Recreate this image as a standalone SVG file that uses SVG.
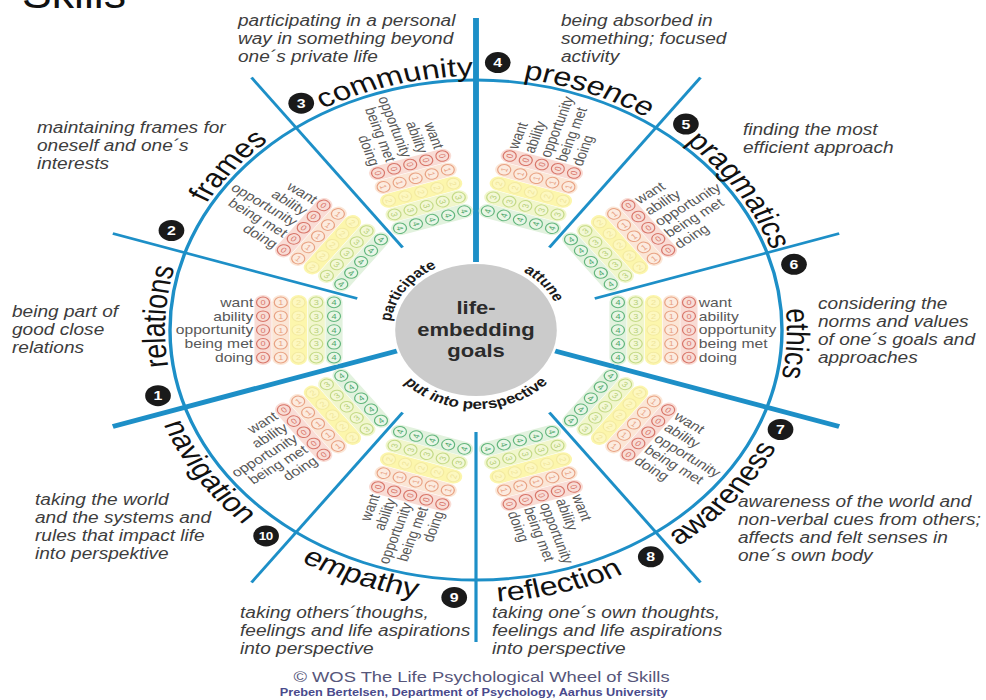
<svg xmlns="http://www.w3.org/2000/svg" width="986" height="700" viewBox="0 0 986 700">
<style>
text{font-family:"Liberation Sans",Arial,sans-serif}
.ring{fill:none;stroke:#1d8fc7;stroke-width:2.8}
.thin{stroke:#1d8fc7;stroke-width:2.6;stroke-linecap:butt}
.thick{stroke:#1d8fc7;stroke-width:4.8;stroke-linecap:butt}
.sl{font-size:26.5px;fill:#111;text-anchor:middle}
.gl{font-size:13.5px;font-weight:bold;fill:#1a1a1a;text-anchor:middle}
.ct{font-size:18px;font-weight:bold;fill:#2b2b2b;text-anchor:middle}
.bd{fill:#1a1a1a}
.bn{font-size:13px;font-weight:bold;fill:#fff;text-anchor:middle}
.bn10{font-size:11px;font-weight:bold;fill:#fff;text-anchor:middle;letter-spacing:-0.5px}
.rl{font-size:12.8px;fill:#585858}
.rlL{text-anchor:end}
.rlR{text-anchor:start}
.col text{font-size:7.5px;text-anchor:middle}
.col circle{stroke-width:1}
.k0 rect{fill:#f9dcd5}.k0 circle{fill:#f8ddd6;stroke:#d8766a}.k0 text{fill:#d8766a}
.k1 rect{fill:#fbe6d6}.k1 circle{fill:#fcebdf;stroke:#e8a283}.k1 text{fill:#e8a283}
.k2 rect{fill:#fcf6ac}.k2 circle{fill:#fdf8c0;stroke:#f3eaa0}.k2 text{fill:#efe49a}
.k3 rect{fill:#f1f6cc}.k3 circle{fill:#f3f8d6;stroke:#c4da86}.k3 text{fill:#b7d07a}
.k4 rect{fill:#e2f2de}.k4 circle{fill:#e9f6e6;stroke:#63b67d}.k4 text{fill:#4fa86c}
.ds{font-size:15.6px;font-style:italic;fill:#3d3d3d}
</style>
<defs>
<path id="cwO" d="M 0,254 A 254 254 0 1 1 0,-254 A 254 254 0 1 1 0,254"/>
<path id="ccwO" d="M 0,-272 A 272 272 0 1 0 0,272 A 272 272 0 1 0 0,-272"/>
<path id="cwI" d="M 0,70 A 70 70 0 1 1 0,-70 A 70 70 0 1 1 0,70"/>
<path id="ccwI" d="M 0,-79 A 79 79 0 1 0 0,79 A 79 79 0 1 0 0,-79"/>
<g id="c0" class="col k0"><rect x="-7" y="-35" width="14" height="70" rx="7"/><circle cy="-27.6" r="5.3"/><circle cy="-13.8" r="5.3"/><circle cy="0" r="5.3"/><circle cy="13.8" r="5.3"/><circle cy="27.6" r="5.3"/><text y="-24.9">0</text><text y="-11.1">0</text><text y="2.7">0</text><text y="16.5">0</text><text y="30.3">0</text></g>
<g id="c1" class="col k1"><rect x="-7" y="-35" width="14" height="70" rx="7"/><circle cy="-27.6" r="5.3"/><circle cy="-13.8" r="5.3"/><circle cy="0" r="5.3"/><circle cy="13.8" r="5.3"/><circle cy="27.6" r="5.3"/><text y="-24.9">1</text><text y="-11.1">1</text><text y="2.7">1</text><text y="16.5">1</text><text y="30.3">1</text></g>
<g id="c2" class="col k2"><rect x="-7" y="-35" width="14" height="70" rx="7"/><circle cy="-27.6" r="5.3"/><circle cy="-13.8" r="5.3"/><circle cy="0" r="5.3"/><circle cy="13.8" r="5.3"/><circle cy="27.6" r="5.3"/><text y="-24.9">2</text><text y="-11.1">2</text><text y="2.7">2</text><text y="16.5">2</text><text y="30.3">2</text></g>
<g id="c3" class="col k3"><rect x="-7" y="-35" width="14" height="70" rx="7"/><circle cy="-27.6" r="5.3"/><circle cy="-13.8" r="5.3"/><circle cy="0" r="5.3"/><circle cy="13.8" r="5.3"/><circle cy="27.6" r="5.3"/><text y="-24.9">3</text><text y="-11.1">3</text><text y="2.7">3</text><text y="16.5">3</text><text y="30.3">3</text></g>
<g id="c4" class="col k4"><rect x="-7" y="-35" width="14" height="70" rx="7"/><circle cy="-27.6" r="5.3"/><circle cy="-13.8" r="5.3"/><circle cy="0" r="5.3"/><circle cy="13.8" r="5.3"/><circle cy="27.6" r="5.3"/><text y="-24.9">4</text><text y="-11.1">4</text><text y="2.7">4</text><text y="16.5">4</text><text y="30.3">4</text></g>
<g id="gridL">
<use href="#c0" x="-174"/><use href="#c1" x="-159.5"/><use href="#c2" x="-145"/><use href="#c3" x="-130.5"/><use href="#c4" x="-116"/>
<g class="rl rlL"><text x="-182" y="-23.2">want</text><text x="-182" y="-9.4">ability</text><text x="-182" y="4.4">opportunity</text><text x="-182" y="18.2">being met</text><text x="-182" y="32">doing</text></g>
</g>
<g id="gridR">
<use href="#c0" x="174"/><use href="#c1" x="159.5"/><use href="#c2" x="145"/><use href="#c3" x="130.5"/><use href="#c4" x="116"/>
<g class="rl rlR"><text x="182" y="-23.2">want</text><text x="182" y="-9.4">ability</text><text x="182" y="4.4">opportunity</text><text x="182" y="18.2">being met</text><text x="182" y="32">doing</text></g>
</g>
</defs>
<rect width="986" height="700" fill="#fff"/>
<text x="22" y="8" font-size="42" fill="#111" textLength="104" lengthAdjust="spacingAndGlyphs">Skills</text>
<g id="wheel" transform="translate(476,330) scale(1.224,1)">
<g id="connectors">
<circle class="ring" r="250"/>
<line class="thick" x1="64.67" y1="21.01" x2="296.73" y2="96.41"/>
<line class="thin" x1="59.95" y1="82.52" x2="183.39" y2="252.41"/>
<line class="thin" x1="0" y1="102" x2="0" y2="312"/>
<line class="thin" x1="-59.95" y1="82.52" x2="-183.39" y2="252.41"/>
<line class="thick" x1="-64.67" y1="21.01" x2="-296.73" y2="96.41"/>
<line class="thin" x1="-97.01" y1="-31.52" x2="-296.73" y2="-96.41"/>
<line class="thin" x1="-59.95" y1="-82.52" x2="-183.39" y2="-252.41"/>
<line class="thick" x1="0" y1="-68" x2="0" y2="-312"/>
<line class="thin" x1="59.95" y1="-82.52" x2="183.39" y2="-252.41"/>
<line class="thin" x1="97.01" y1="-31.52" x2="296.73" y2="-96.41"/>
</g>
<g id="s1-relations">
<use href="#gridL"/>
<circle class="bd" cx="-259.8" cy="65.7" r="10.5"/><text class="bn" x="-259.8" y="70.4">1</text>
<text class="sl"><textPath href="#cwO" startOffset="25.833%">relations</textPath></text>
</g>
<g id="s2-frames">
<use href="#gridL" transform="rotate(36)"/>
<circle class="bd" cx="-248.8" cy="-99.5" r="10.5"/><text class="bn" x="-248.8" y="-94.8">2</text>
<text class="sl"><textPath href="#cwO" startOffset="35.833%">frames</textPath></text>
</g>
<g id="s3-community">
<use href="#gridL" transform="rotate(72)"/>
<circle class="bd" cx="-142.8" cy="-226.8" r="10.5"/><text class="bn" x="-142.8" y="-222.1">3</text>
<text class="sl"><textPath href="#cwO" startOffset="45.833%">community</textPath></text>
</g>
<g id="s4-presence">
<use href="#gridR" transform="rotate(-72)"/>
<circle class="bd" cx="17.8" cy="-267.4" r="10.5"/><text class="bn" x="17.8" y="-262.7">4</text>
<text class="sl"><textPath href="#cwO" startOffset="55.833%">presence</textPath></text>
</g>
<g id="s5-pragmatics">
<use href="#gridR" transform="rotate(-36)"/>
<circle class="bd" cx="171.5" cy="-205.9" r="10.5"/><text class="bn" x="171.5" y="-201.2">5</text>
<text class="sl"><textPath href="#cwO" startOffset="65.833%">pragmatics</textPath></text>
</g>
<g id="s6-ethics">
<use href="#gridR"/>
<circle class="bd" cx="259.8" cy="-65.7" r="10.5"/><text class="bn" x="259.8" y="-61">6</text>
<text class="sl"><textPath href="#cwO" startOffset="75.833%">ethics</textPath></text>
</g>
<g id="s7-awareness">
<use href="#gridR" transform="rotate(36)"/>
<circle class="bd" cx="248.8" cy="99.5" r="10.5"/><text class="bn" x="248.8" y="104.2">7</text>
<text class="sl"><textPath href="#ccwO" startOffset="64.167%">awareness</textPath></text>
</g>
<g id="s8-reflection">
<use href="#gridR" transform="rotate(72)"/>
<circle class="bd" cx="142.8" cy="226.8" r="10.5"/><text class="bn" x="142.8" y="231.5">8</text>
<text class="sl"><textPath href="#ccwO" startOffset="54.167%">reflection</textPath></text>
</g>
<g id="s9-empathy">
<use href="#gridL" transform="rotate(-72)"/>
<circle class="bd" cx="-17.8" cy="267.4" r="10.5"/><text class="bn" x="-17.8" y="272.1">9</text>
<text class="sl"><textPath href="#ccwO" startOffset="44.167%">empathy</textPath></text>
</g>
<g id="s10-navigation">
<use href="#gridL" transform="rotate(-36)"/>
<circle class="bd" cx="-171.5" cy="205.9" r="10.5"/><text class="bn10" x="-171.8" y="209.8">10</text>
<text class="sl"><textPath href="#ccwO" startOffset="34.167%">navigation</textPath></text>
</g>
<g id="center">
<circle r="66" fill="#cbcbcb"/>
<text class="ct" y="-16">life-</text>
<text class="ct" y="6">embedding</text>
<text class="ct" y="27">goals</text>
</g>
<g id="group-labels">
<text class="gl"><textPath href="#cwI" startOffset="34.72%">participate</textPath></text>
<text class="gl"><textPath href="#cwI" startOffset="63.89%">attune</textPath></text>
<text class="gl" style="font-size:14px"><textPath href="#ccwI" startOffset="50%">put into perspective</textPath></text>
</g>
</g>
<g id="descriptions" transform="scale(1.224,1)">
<text class="ds" x="194.4" y="26">participating in a personal</text>
<text class="ds" x="194.4" y="44">way in something beyond</text>
<text class="ds" x="194.4" y="62">one´s private life</text>
<text class="ds" x="458.3" y="26">being absorbed in</text>
<text class="ds" x="458.3" y="44">something; focused</text>
<text class="ds" x="458.3" y="62">activity</text>
<text class="ds" x="30.2" y="133">maintaining frames for</text>
<text class="ds" x="30.2" y="151">oneself and one´s</text>
<text class="ds" x="30.2" y="169">interests</text>
<text class="ds" x="607" y="135">finding the most</text>
<text class="ds" x="607" y="153">efficient approach</text>
<text class="ds" x="9.8" y="317">being part of</text>
<text class="ds" x="9.8" y="335">good close</text>
<text class="ds" x="9.8" y="353">relations</text>
<text class="ds" x="668.3" y="309">considering the</text>
<text class="ds" x="668.3" y="327">norms and values</text>
<text class="ds" x="668.3" y="345">of one´s goals and</text>
<text class="ds" x="668.3" y="363">approaches</text>
<text class="ds" x="28.6" y="505">taking the world</text>
<text class="ds" x="28.6" y="523">and the systems and</text>
<text class="ds" x="28.6" y="541">rules that impact life</text>
<text class="ds" x="28.6" y="559">into perspektive</text>
<text class="ds" x="602.9" y="507">awareness of the world and</text>
<text class="ds" x="602.9" y="525">non-verbal cues from others;</text>
<text class="ds" x="602.9" y="543">affects and felt senses in</text>
<text class="ds" x="602.9" y="561">one´s own body</text>
<text class="ds" x="196.1" y="618">taking others´thoughs,</text>
<text class="ds" x="196.1" y="636">feelings and life aspirations</text>
<text class="ds" x="196.1" y="654">into perspective</text>
<text class="ds" x="402" y="618">taking one´s own thoughts,</text>
<text class="ds" x="402" y="636">feelings and life aspirations</text>
<text class="ds" x="402" y="654">into perspective</text>
<text x="393.4" y="682" font-size="15" fill="#56567a" text-anchor="middle">© WOS The Life Psychological Wheel of Skills</text>
<text x="387" y="696" font-size="10.5" font-weight="bold" fill="#4a4a8c" text-anchor="middle" textLength="317" lengthAdjust="spacingAndGlyphs">Preben Bertelsen, Department of Psychology, Aarhus University</text>
</g>
</svg>
